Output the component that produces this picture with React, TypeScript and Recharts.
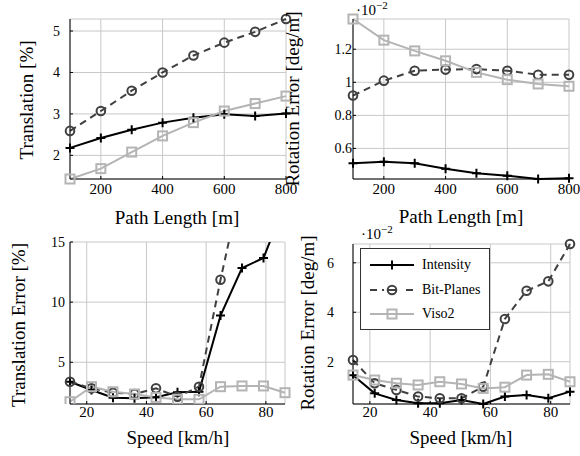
import { LineChart, Line, XAxis, YAxis, CartesianGrid } from 'recharts';

const pathLength = [100, 200, 300, 400, 500, 600, 700, 800];
const pathTransIntensity = [2.18, 2.42, 2.62, 2.79, 2.91, 2.99, 2.95, 3.01];
const pathTransBitPlanes = [2.59, 3.07, 3.56, 4.0, 4.41, 4.72, 4.98, 5.29];
const pathTransViso2 = [1.43, 1.68, 2.08, 2.47, 2.79, 3.07, 3.25, 3.43];

const pathRotIntensity = [0.51, 0.52, 0.51, 0.477, 0.45, 0.435, 0.415, 0.42];
const pathRotBitPlanes = [0.92, 1.01, 1.07, 1.077, 1.08, 1.07, 1.046, 1.045];
const pathRotViso2 = [1.383, 1.255, 1.19, 1.13, 1.06, 1.016, 0.99, 0.976];

const speed = [14.4, 21.6, 28.8, 36, 43.2, 50.4, 57.6, 64.8, 72, 79.2, 86.4];
const speedTransIntensity = [3.38, 2.69, 2.05, 2.0, 2.1, 2.5, 2.55, 8.88, 12.83, 13.67, 18.2];
const speedTransBitPlanes = [3.38, 2.83, 2.47, 2.36, 2.83, 2.13, 2.97, 11.86, 20, 23, 26];
const speedTransViso2 = [1.72, 2.97, 2.55, 2.36, 2.08, 1.92, 1.92, 2.97, 3.03, 3.03, 2.47];

const speedRotIntensity = [1.45, 0.72, 0.45, 0.32, 0.32, 0.45, 0.29, 0.59, 0.65, 0.52, 0.79];
const speedRotBitPlanes = [2.07, 1.13, 0.86, 0.59, 0.52, 0.52, 0.99, 3.73, 4.87, 5.25, 6.76];
const speedRotViso2 = [1.46, 1.26, 1.13, 1.06, 1.19, 1.1, 0.92, 0.97, 1.46, 1.49, 1.19];

const pathTicks = [200, 400, 600, 800];
const speedTicks = [20, 40, 60, 80];

const FONT = '"Liberation Serif", "DejaVu Serif", "Times New Roman", serif';
const C_INT = '#000000';
const C_BP = '#404040';
const C_VISO = '#b4b4b4';

const PlusDot = (p: any) => {
  const { cx, cy, index } = p;
  if (cx == null || cy == null) return <g key={index} />;
  return (
    <path
      key={index}
      d={`M${cx - 4.5},${cy}h9M${cx},${cy - 4.5}v9`}
      stroke={C_INT}
      strokeWidth={2}
      fill="none"
    />
  );
};

const CircleDot = (p: any) => {
  const { cx, cy, index } = p;
  if (cx == null || cy == null) return <g key={index} />;
  return <circle key={index} cx={cx} cy={cy} r={4.3} stroke={C_BP} strokeWidth={2} fill="none" />;
};

const SquareDot = (p: any) => {
  const { cx, cy, index } = p;
  if (cx == null || cy == null) return <g key={index} />;
  return <rect key={index} x={cx - 4.5} y={cy - 4.5} width={9} height={9} stroke={C_VISO} strokeWidth={2} fill="none" />;
};

const noTick = () => <g />;

type PanelProps = {
  x0: number;
  x1: number;
  y0: number;
  y1: number;
  xs: number[];
  a: number[];
  b: number[];
  c: number[];
  xTicks: number[];
  yTicks: number[];
  yDomain: [number, number];
  clip?: boolean;
  yGap: number;
  xGap: number;
};

function Panel({ x0, x1, y0, y1, xs, a, b, c, xTicks, yTicks, yDomain, clip, yGap, xGap }: PanelProps) {
  const rows = xs.map((x, i) => ({ x, a: a[i], b: b[i], c: c[i] }));
  const xDomain: [number, number] = [Math.min(...xs), Math.max(...xs)];
  const yTickStyle = { fontSize: 14, fill: '#000', fontFamily: FONT };
  const xTickStyle = { fontSize: 15, fill: '#000', fontFamily: FONT };
  return (
    <div style={{ position: 'absolute', left: 0, top: 0 }}>
      <LineChart
        width={580}
        height={456}
        data={rows}
        margin={{ top: y0, left: x0 - 40, right: 580 - x1, bottom: 456 - y1 - 30 }}
        style={{ fontFamily: FONT }}
      >
        <CartesianGrid stroke="#c8c8c8" strokeWidth={1} />
        <XAxis
          dataKey="x"
          type="number"
          domain={xDomain}
          ticks={xTicks}
          interval={0}
          height={30}
          tick={xTickStyle}
          tickSize={-3}
          tickMargin={xGap}
          stroke="#000"
          tickLine={{ stroke: '#000' }}
        />
        <XAxis
          xAxisId="top"
          orientation="top"
          dataKey="x"
          type="number"
          domain={xDomain}
          ticks={xTicks}
          interval={0}
          height={0}
          tick={noTick}
          tickSize={-3}
          stroke="#000"
        />
        <YAxis
          type="number"
          domain={yDomain}
          allowDataOverflow={!!clip}
          ticks={yTicks}
          interval={0}
          width={40}
          tick={yTickStyle}
          tickSize={-3}
          tickMargin={yGap}
          stroke="#000"
        />
        <YAxis
          yAxisId="right"
          orientation="right"
          type="number"
          domain={yDomain}
          allowDataOverflow
          ticks={yTicks}
          interval={0}
          width={0}
          tick={noTick}
          tickSize={-3}
          stroke="#000"
        />
        <Line dataKey="a" stroke={C_INT} strokeWidth={2} dot={PlusDot} isAnimationActive={false} />
        <Line
          dataKey="b"
          stroke={C_BP}
          strokeWidth={2}
          strokeDasharray="7 5"
          dot={CircleDot}
          isAnimationActive={false}
        />
        <Line dataKey="c" stroke={C_VISO} strokeWidth={2} dot={SquareDot} isAnimationActive={false} />
      </LineChart>
    </div>
  );
}

const titleBase: React.CSSProperties = {
  position: 'absolute',
  whiteSpace: 'nowrap',
  fontFamily: FONT,
  fontSize: 19,
  color: '#000',
  lineHeight: 1,
};

function YTitle({ cx, cy, text }: { cx: number; cy: number; text: string }) {
  return (
    <div style={{ ...titleBase, left: cx, top: cy, transform: 'translate(-50%, -50%) rotate(-90deg)' }}>{text}</div>
  );
}

function XTitle({ cx, cy, text }: { cx: number; cy: number; text: string }) {
  return <div style={{ ...titleBase, left: cx, top: cy, transform: 'translate(-50%, -50%)' }}>{text}</div>;
}

function Scale({ x, y }: { x: number; y: number }) {
  return (
    <div style={{ ...titleBase, fontSize: 15, left: x, top: y }}>
      ·10<span style={{ fontSize: 11, position: 'relative', top: -6 }}>−2</span>
    </div>
  );
}

const legendItems = [
  { name: 'Intensity', color: C_INT, dash: undefined, mark: 'plus' },
  { name: 'Bit-Planes', color: C_BP, dash: '7 5', mark: 'circle' },
  { name: 'Viso2', color: C_VISO, dash: undefined, mark: 'square' },
];

function LegendBox() {
  return (
    <div
      style={{
        position: 'absolute',
        left: 360,
        top: 248,
        width: 128,
        height: 80,
        border: '1px solid #333',
        background: '#fff',
      }}
    >
      {legendItems.map((it, i) => (
        <div key={it.name} style={{ position: 'absolute', left: 0, top: 16 + i * 24.5 - 10, height: 20, width: 128 }}>
          <svg width={60} height={20} style={{ position: 'absolute', left: 0, top: 0 }}>
            <line x1={9} x2={53} y1={10} y2={10} stroke={it.color} strokeWidth={2} strokeDasharray={it.dash} />
            {it.mark === 'plus' && <path d="M26.5,10h9M31,5.5v9" stroke={it.color} strokeWidth={2} />}
            {it.mark === 'circle' && (
              <>
                <rect x={23} y={3} width={17} height={14} fill="#fff" />
                <circle cx={31} cy={10} r={4.3} stroke={it.color} strokeWidth={2} fill="none" />
                <line x1={27} x2={35} y1={10} y2={10} stroke={it.color} strokeWidth={2} />
              </>
            )}
            {it.mark === 'square' && (
              <rect x={26.5} y={5.5} width={9} height={9} stroke={it.color} strokeWidth={2} fill="none" />
            )}
          </svg>
          <span
            style={{
              position: 'absolute',
              left: 61,
              top: 2,
              fontFamily: FONT,
              fontSize: 14,
              lineHeight: '16px',
              whiteSpace: 'nowrap',
            }}
          >
            {it.name}
          </span>
        </div>
      ))}
    </div>
  );
}

export default function App() {
  return (
    <div
      style={{
        position: 'absolute',
        left: 0,
        top: 0,
        width: 580,
        height: 456,
        background: '#fff',
        overflow: 'hidden',
        fontFamily: FONT,
      }}
    >
      <Panel
        x0={70}
        x1={286}
        y0={19}
        y1={179}
        xs={pathLength}
        a={pathTransIntensity}
        b={pathTransBitPlanes}
        c={pathTransViso2}
        xTicks={pathTicks}
        yTicks={[2, 3, 4, 5]}
        yDomain={[1.43, 5.29]}
        yGap={13}
        xGap={7}
      />
      <Panel
        x0={353}
        x1={569}
        y0={19}
        y1={179}
        xs={pathLength}
        a={pathRotIntensity}
        b={pathRotBitPlanes}
        c={pathRotViso2}
        xTicks={pathTicks}
        yTicks={[0.6, 0.8, 1, 1.2]}
        yDomain={[0.415, 1.383]}
        yGap={4}
        xGap={7}
      />
      <Panel
        x0={70}
        x1={285}
        y0={242}
        y1={404}
        xs={speed}
        a={speedTransIntensity}
        b={speedTransBitPlanes}
        c={speedTransViso2}
        xTicks={speedTicks}
        yTicks={[5, 10, 15]}
        yDomain={[1.53, 15]}
        clip
        yGap={8}
        xGap={5}
      />
      <Panel
        x0={353}
        x1={570}
        y0={244}
        y1={404}
        xs={speed}
        a={speedRotIntensity}
        b={speedRotBitPlanes}
        c={speedRotViso2}
        xTicks={speedTicks}
        yTicks={[2, 4, 6]}
        yDomain={[0.29, 6.76]}
        yGap={22}
        xGap={5}
      />
      <YTitle cx={26} cy={100} text="Translation [%]" />
      <YTitle cx={292} cy={99} text="Rotation Error [deg/m]" />
      <YTitle cx={18} cy={325} text="Translation Error [%]" />
      <YTitle cx={307} cy={323} text="Rotation Error [deg/m]" />
      <XTitle cx={177} cy={217} text="Path Length [m]" />
      <XTitle cx={461} cy={216} text="Path Length [m]" />
      <XTitle cx={178} cy={437} text="Speed [km/h]" />
      <XTitle cx={461} cy={437} text="Speed [km/h]" />
      <Scale x={356} y={3} />
      <Scale x={361} y={227} />
      <LegendBox />
    </div>
  );
}
